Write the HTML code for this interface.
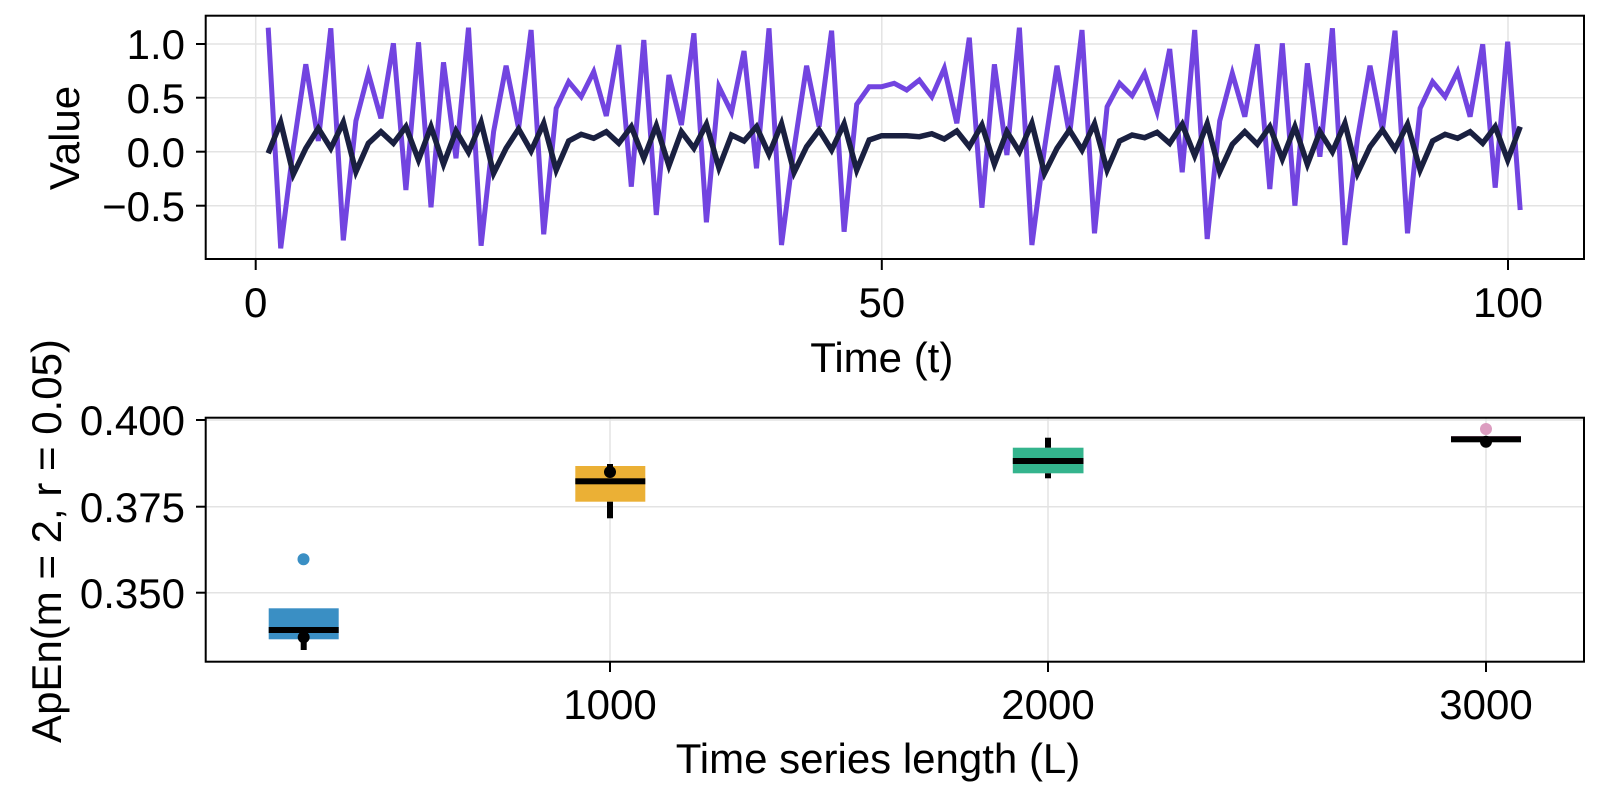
<!DOCTYPE html>
<html><head><meta charset="utf-8"><style>
html,body{margin:0;padding:0;background:#fff}
svg text{font-family:"Liberation Sans",sans-serif;fill:#000}
</style></head><body>
<svg id="s" width="1600" height="800" xmlns="http://www.w3.org/2000/svg">
<rect width="1600" height="800" fill="#fff"/>
<g stroke="#e3e3e3" stroke-width="1.5">
<line x1="205.7" x2="1584" y1="44" y2="44"/><line x1="205.7" x2="1584" y1="97.7" y2="97.7"/>
<line x1="205.7" x2="1584" y1="151.7" y2="151.7"/><line x1="205.7" x2="1584" y1="205.7" y2="205.7"/>
<line x1="255.7" x2="255.7" y1="15.7" y2="259"/><line x1="881.8" x2="881.8" y1="15.7" y2="259"/><line x1="1508" x2="1508" y1="15.7" y2="259"/>
</g>
<polyline id="pp" fill="none" stroke="#7244e0" stroke-width="5" stroke-linejoin="miter"/>
<polyline id="bp" fill="none" stroke="#1a2040" stroke-width="5.5" stroke-linejoin="miter"/>
<rect x="205.7" y="15.7" width="1378.3" height="243.3" fill="none" stroke="#000" stroke-width="2"/>
<g stroke="#000" stroke-width="2">
<line x1="196" x2="205.7" y1="44" y2="44"/><line x1="196" x2="205.7" y1="97.7" y2="97.7"/>
<line x1="196" x2="205.7" y1="151.7" y2="151.7"/><line x1="196" x2="205.7" y1="205.7" y2="205.7"/>
<line x1="255.7" x2="255.7" y1="259" y2="270"/><line x1="881.8" x2="881.8" y1="259" y2="270"/><line x1="1508" x2="1508" y1="259" y2="270"/>
</g>
<g font-size="42" text-anchor="end">
<text x="185" y="59">1.0</text><text x="185" y="113">0.5</text><text x="185" y="167">0.0</text><text x="185" y="221">−0.5</text>
</g>
<g font-size="42" text-anchor="middle">
<text x="255.7" y="317">0</text><text x="881.8" y="317">50</text><text x="1508" y="317">100</text>
<text x="881.8" y="372">Time (t)</text>
<text transform="translate(79,138) rotate(-90)">Value</text>
<text transform="translate(61,541) rotate(-90)">ApEn(m = 2, r = 0.05)</text>
<text x="878" y="773">Time series length (L)</text>
<text x="610" y="719">1000</text><text x="1048" y="719">2000</text><text x="1486" y="719">3000</text>
</g>
<g stroke="#e3e3e3" stroke-width="1.5">
<line x1="205.7" x2="1584" y1="420" y2="420"/><line x1="205.7" x2="1584" y1="506.7" y2="506.7"/><line x1="205.7" x2="1584" y1="592.7" y2="592.7"/>
<line x1="610" x2="610" y1="417.7" y2="661.7"/><line x1="1048" x2="1048" y1="417.7" y2="661.7"/><line x1="1486" x2="1486" y1="417.7" y2="661.7"/>
</g>
<rect x="268.7" y="608.3" width="70" height="31" fill="#3a8fc4"/>
<rect x="300.7" y="639" width="6" height="11" fill="#000"/>
<rect x="268.7" y="627" width="70" height="6" fill="#000"/>
<circle cx="303.7" cy="637.3" r="6" fill="#000"/>
<circle cx="303.5" cy="559.3" r="6" fill="#3a8fc4"/>
<rect x="575.3" y="466" width="70" height="35.7" fill="#ebb035"/>
<rect x="607" y="464" width="6" height="4" fill="#000"/>
<rect x="607" y="501.7" width="6" height="16.6" fill="#000"/>
<rect x="575.3" y="478.3" width="70" height="6" fill="#000"/>
<circle cx="610" cy="472" r="6" fill="#000"/>
<rect x="1012.8" y="447.7" width="70.7" height="25.6" fill="#34b48d"/>
<rect x="1045" y="437.7" width="6" height="10" fill="#000"/>
<rect x="1045" y="473.3" width="6" height="5" fill="#000"/>
<rect x="1012.8" y="458" width="70.7" height="6" fill="#000"/>
<rect x="1451" y="436" width="70" height="2" fill="#dc9dc0"/>
<rect x="1451" y="436.3" width="70" height="6" fill="#000"/>
<circle cx="1486" cy="441.7" r="6" fill="#000"/>
<circle cx="1486" cy="429" r="6" fill="#dc9dc0"/>
<rect x="205.7" y="417.7" width="1378.3" height="244" fill="none" stroke="#000" stroke-width="2"/>
<g stroke="#000" stroke-width="2">
<line x1="196" x2="205.7" y1="420" y2="420"/><line x1="196" x2="205.7" y1="506.7" y2="506.7"/><line x1="196" x2="205.7" y1="592.7" y2="592.7"/>
<line x1="610" x2="610" y1="661.7" y2="672"/><line x1="1048" x2="1048" y1="661.7" y2="672"/><line x1="1486" x2="1486" y1="661.7" y2="672"/>
</g>
<g font-size="42" text-anchor="end">
<text x="185" y="435">0.400</text><text x="185" y="522">0.375</text><text x="185" y="608">0.350</text>
</g>
</svg>
<script>
var P=[38,700,400,148,378,40,676,318,175,310,85,525,82,577,142,430,38,692,350,152,340,45,658,280,200,245,170,303,90,515,75,600,180,330,55,622,215,292,108,460,40,690,400,152,335,47,650,268,215,215,205,225,195,245,160,325,68,578,148,420,38,690,400,152,360,45,655,275,205,242,175,290,102,472,45,672,318,175,305,88,522,85,572,145,425,40,690,370,152,345,47,655,280,200,245,170,305,88,518,80,585];
var B=[415,322,478,400,340,400,322,470,385,350,385,335,435,335,448,348,412,322,475,400,342,408,325,465,378,358,370,350,385,335,430,332,452,350,400,328,458,360,378,335,418,326,472,395,345,405,326,465,375,362,362,362,365,356,372,348,395,330,448,350,410,325,475,400,345,405,326,465,378,360,368,352,385,328,422,326,470,388,350,388,335,432,335,448,350,410,325,475,395,345,402,328,465,378,358,370,350,385,335,435,335];
function pts(a){return a.map(function(v,i){return (255.7+12.52*(i+1)).toFixed(1)+","+(15+v/3).toFixed(1)}).join(" ")}
document.getElementById("pp").setAttribute("points",pts(P));
document.getElementById("bp").setAttribute("points",pts(B));
</script>
</body></html>
